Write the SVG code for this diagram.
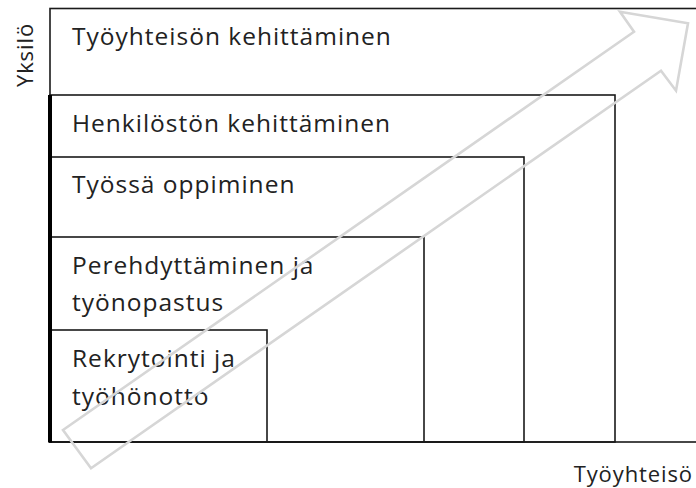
<svg xmlns="http://www.w3.org/2000/svg" width="696" height="488" viewBox="0 0 696 488">
  <style>
    .box { fill: none; stroke: #1a1a1a; stroke-width: 1.6; }
    .lbl { font-family: "Open Sans", "Liberation Sans", sans-serif; font-size: 24.5px; letter-spacing: 1px; fill: #222; }
    .axis { font-family: "Open Sans", "Liberation Sans", sans-serif; font-size: 22px; letter-spacing: 0.9px; fill: #222; }
    .arrow { fill: none; stroke: #d6d6d6; stroke-width: 2.6; stroke-linejoin: miter; }
  </style>
  <rect width="696" height="488" fill="#fff"/>

  <!-- nested stages, outermost first -->
  <g id="tyoyhteison-kehittaminen">
    <rect class="box" x="50" y="8.5" width="700" height="433.5"/>
    <text class="lbl" x="72" y="45">Työyhteisön kehittäminen</text>
  </g>
  <g id="henkiloston-kehittaminen">
    <rect class="box" x="50" y="95" width="565" height="347"/>
    <text class="lbl" x="72" y="132">Henkilöstön kehittäminen</text>
  </g>
  <g id="tyossa-oppiminen">
    <rect class="box" x="50" y="157" width="474" height="285"/>
    <text class="lbl" x="72" y="193">Työssä oppiminen</text>
  </g>
  <g id="perehdyttaminen">
    <rect class="box" x="50" y="237" width="374" height="205"/>
    <text class="lbl" x="72" y="274">Perehdyttäminen ja</text>
    <text class="lbl" x="72" y="311">työnopastus</text>
  </g>
  <g id="rekrytointi">
    <rect class="box" x="50" y="330" width="217" height="112"/>
    <text class="lbl" x="72" y="367">Rekrytointi ja</text>
    <text class="lbl" x="72" y="405">työhönotto</text>
  </g>

  <!-- axes -->
  <g id="axes">
    <rect x="48" y="95" width="4" height="347.5" fill="#000"/>
    <text class="axis" transform="translate(33 55) rotate(-90)" text-anchor="middle">Yksilö</text>
    <text class="axis" x="693" y="482" text-anchor="end">Työyhteisö</text>
  </g>

  <!-- hollow growth arrow over the stages -->
  <g id="connectors">
    <polygon class="arrow" points="63,430 634,31.7 620,11.7 688,23.3 676,90.7 661,70.7 91,468.3"/>
  </g>
</svg>
